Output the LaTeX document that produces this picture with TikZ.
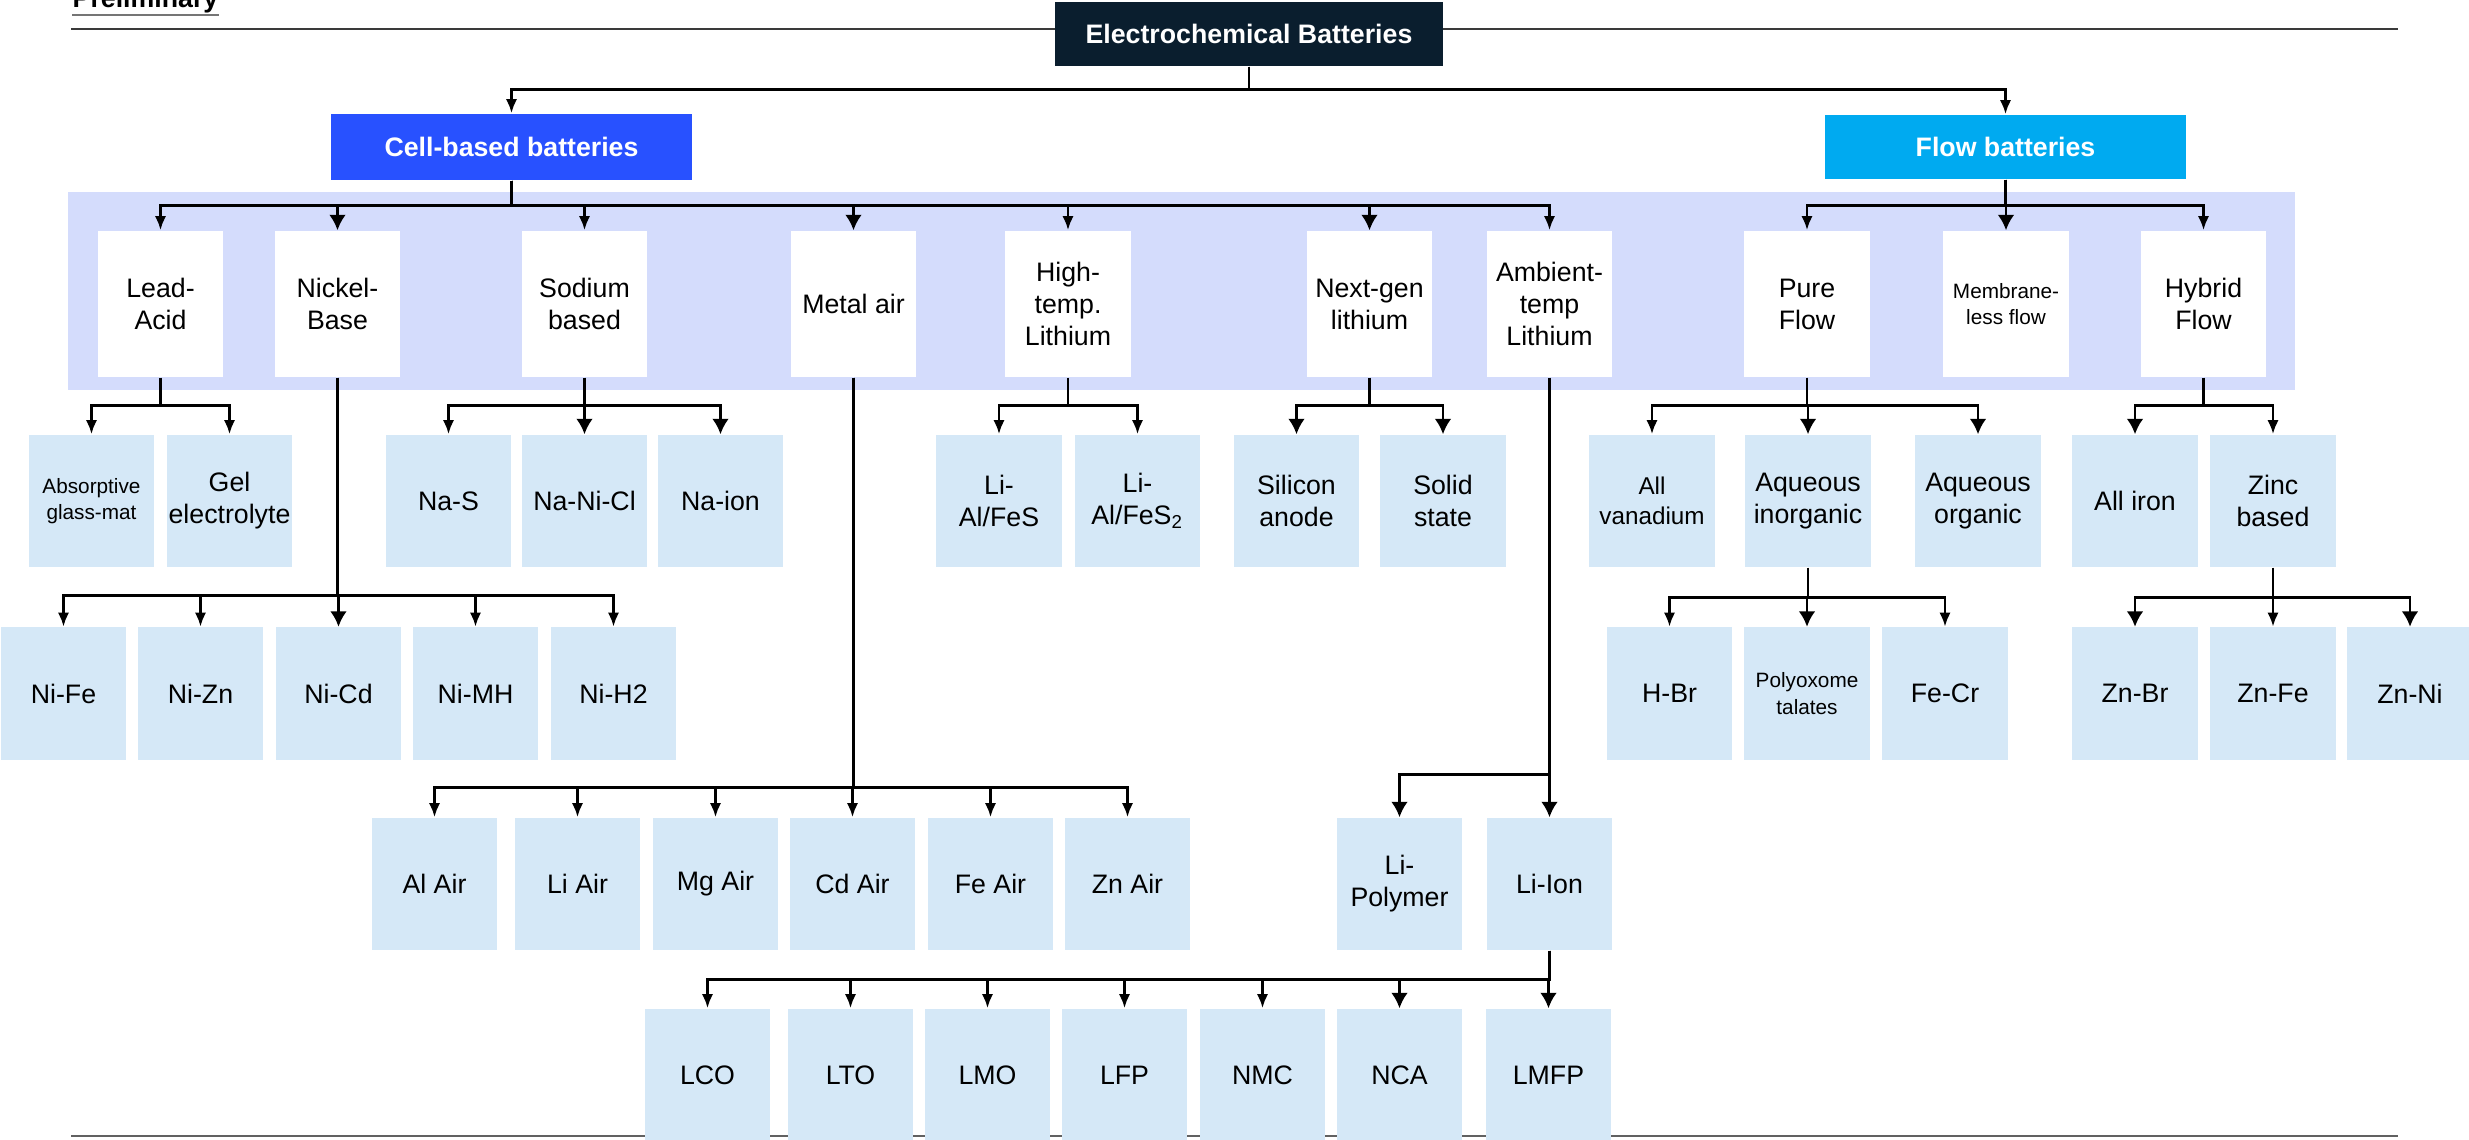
\documentclass[tikz,border=0pt]{standalone}
\usepackage{fontspec}
\setmainfont{Liberation Sans}
\usetikzlibrary{arrows.meta}

\definecolor{navy}{HTML}{0A1E2E}
\definecolor{cellblue}{HTML}{2851FF}
\definecolor{flowcyan}{HTML}{00AAF0}
\definecolor{panel}{HTML}{D4DCFC}
\definecolor{leafblue}{HTML}{D5E8F7}
\definecolor{rulegray}{HTML}{3A3A3A}

\tikzset{
  head/.style={inner sep=0pt, text=white, font=\fontsize{7.6}{9.1}\selectfont\bfseries},
  cat/.style={fill=white, minimum width=1.25cm, minimum height=1.46cm, inner sep=0pt, align=center},
  leaf/.style={fill=leafblue, minimum width=1.25cm, minimum height=1.32cm, inner sep=0pt, align=center},
  smalltext/.style={font=\fontsize{5.9}{7.6}\selectfont},
  midtext/.style={font=\fontsize{6.9}{8.4}\selectfont},
  link/.style={-{Latex[length=4pt,width=3.2pt]}, line width=0.8pt},
  biglink/.style={-{Latex[length=4.4pt,width=4.8pt]}, line width=0.8pt},
}

\begin{document}
\begin{tikzpicture}[x=0.01cm, y=-0.01cm, font=\fontsize{7.6}{9.1}\selectfont]
  \useasboundingbox (0,0) rectangle (2469,1139);

  % rules and panel
  \node[anchor=base west, inner sep=0pt, font=\fontsize{7.6}{9.1}\selectfont\bfseries] at (72,7) (prelim) {Preliminary};
  \draw[rulegray!70, line width=0.6pt] (72,15) -- (219,15);
  \draw[rulegray, line width=0.6pt] (71,29) -- (2398,29);
  \draw[rulegray!80, line width=0.6pt] (71,1136) -- (2398,1136);
  \fill[panel] (68,192) rectangle (2295,390);

  % headers
  \node[head, fill=navy, minimum width=3.88cm, minimum height=0.64cm] at (1249,34) (echem) {Electrochemical Batteries};
  \node[head, fill=cellblue, minimum width=3.61cm, minimum height=0.66cm] at (511.5,147) (cell) {Cell-based batteries};
  \node[head, fill=flowcyan, minimum width=3.61cm, minimum height=0.64cm] at (2005.5,147) (flow) {Flow batteries};

  % second level
  \node[cat] at (160.5,304) (lead) {Lead-\\Acid};
  \node[cat] at (337.5,304) (nickel) {Nickel-\\Base};
  \node[cat] at (584.5,304) (sodium) {Sodium\\based};
  \node[cat] at (853.5,304) (metal) {Metal air};
  \node[cat] at (1068,304) (hightemp) {High-\\temp.\\Lithium};
  \node[cat] at (1369.5,304) (nextgen) {Next-gen\\lithium};
  \node[cat] at (1549.5,304) (ambient) {Ambient-\\temp\\Lithium};
  \node[cat] at (1807,304) (pure) {Pure\\Flow};
  \node[cat, smalltext] at (2006,304) (membrane) {Membrane-\\less flow};
  \node[cat] at (2203.5,304) (hybrid) {Hybrid\\Flow};

  % third level
  \node[leaf, smalltext] at (91.5,501) (absorptive) {Absorptive\\glass-mat};
  \node[leaf] at (229.5,501) (gel) {Gel\\electrolyte};
  \node[leaf] at (448.5,501) (nas) {Na-S};
  \node[leaf] at (584.5,501) (nanicl) {Na-Ni-Cl};
  \node[leaf] at (720.5,501) (naion) {Na-ion};
  \node[leaf] at (999,501) (lifes) {Li-\\Al/FeS};
  \node[leaf] at (1137.5,501) (lifes2) {Li-\\Al/FeS\textsubscript{2}};
  \node[leaf] at (1296.5,501) (silicon) {Silicon\\anode};
  \node[leaf] at (1443,501) (solid) {Solid\\state};
  \node[leaf, midtext] at (1652,501) (vanadium) {All\\vanadium};
  \node[leaf] at (1808,501) (aqinorg) {Aqueous\\inorganic};
  \node[leaf] at (1978,501) (aqorg) {Aqueous\\organic};
  \node[leaf] at (2135,501) (alliron) {All iron};
  \node[leaf] at (2273,501) (zinc) {Zinc\\based};

  % fourth level
  \node[leaf] at (63.5,693.5) (nife) {Ni-Fe};
  \node[leaf] at (200.5,693.5) (nizn) {Ni-Zn};
  \node[leaf] at (338.5,693.5) (nicd) {Ni-Cd};
  \node[leaf] at (475.5,693.5) (nimh) {Ni-MH};
  \node[leaf] at (613.5,693.5) (nih2) {Ni-H2};
  \node[leaf] at (1669.5,693.5) (hbr) {H-Br};
  \node[leaf, smalltext] at (1807,693.5) (polyox) {Polyoxome\\talates};
  \node[leaf] at (1945,693.5) (fecr) {Fe-Cr};
  \node[leaf] at (2135,693.5) (znbr) {Zn-Br};
  \node[leaf] at (2273,693.5) (znfe) {Zn-Fe};
  \node[leaf] at (2410,693.5) (znni) {Zn-Ni};

  % metal air and ambient lithium
  \node[leaf] at (434.5,884) (alair) {Al Air};
  \node[leaf] at (577.5,884) (liair) {Li Air};
  \node[leaf] at (715.5,884) (mgair) {Mg Air};
  \node[leaf] at (852.5,884) (cdair) {Cd Air};
  \node[leaf] at (990.5,884) (feair) {Fe Air};
  \node[leaf] at (1127.5,884) (znair) {Zn Air};
  \node[leaf] at (1399.5,884) (lipoly) {Li-\\Polymer};
  \node[leaf] at (1549.5,884) (liion) {Li-Ion};

  % li-ion chemistries
  \node[leaf] at (707.5,1075) (lco) {LCO};
  \node[leaf] at (850.5,1075) (lto) {LTO};
  \node[leaf] at (987.5,1075) (lmo) {LMO};
  \node[leaf] at (1124.5,1075) (lfp) {LFP};
  \node[leaf] at (1262.5,1075) (nmc) {NMC};
  \node[leaf] at (1399.5,1075) (nca) {NCA};
  \node[leaf] at (1548.5,1075) (lmfp) {LMFP};

  % connectors
  \draw[link] (echem.south) -- ++(0,23) -| (cell.north);
  \draw[link] (echem.south) -- ++(0,23) -| (flow.north);

  \draw[link] (cell.south) -- ++(0,25) -| (lead.north);
  \draw[biglink] (cell.south) -- ++(0,25) -| (nickel.north);
  \draw[link] (cell.south) -- ++(0,25) -| (sodium.north);
  \draw[biglink] (cell.south) -- ++(0,25) -| (metal.north);
  \draw[link] (cell.south) -- ++(0,25) -| (hightemp.north);
  \draw[biglink] (cell.south) -- ++(0,25) -| (nextgen.north);
  \draw[link] (cell.south) -- ++(0,25) -| (ambient.north);

  \draw[link] (flow.south) -- ++(0,26) -| (pure.north);
  \draw[biglink] (flow.south) -- ++(0,26) -| (membrane.north);
  \draw[link] (flow.south) -- ++(0,26) -| (hybrid.north);

  \draw[link] (lead.south) -- ++(0,28) -| (absorptive.north);
  \draw[link] (lead.south) -- ++(0,28) -| (gel.north);
  \draw[link] (sodium.south) -- ++(0,28) -| (nas.north);
  \draw[biglink] (sodium.south) -- ++(0,28) -| (nanicl.north);
  \draw[biglink] (sodium.south) -- ++(0,28) -| (naion.north);
  \draw[link] (hightemp.south) -- ++(0,28) -| (lifes.north);
  \draw[link] (hightemp.south) -- ++(0,28) -| (lifes2.north);
  \draw[biglink] (nextgen.south) -- ++(0,28) -| (silicon.north);
  \draw[biglink] (nextgen.south) -- ++(0,28) -| (solid.north);
  \draw[link] (pure.south) -- ++(0,28) -| (vanadium.north);
  \draw[biglink] (pure.south) -- ++(0,28) -| (aqinorg.north);
  \draw[biglink] (pure.south) -- ++(0,28) -| (aqorg.north);
  \draw[biglink] (hybrid.south) -- ++(0,28) -| (alliron.north);
  \draw[link] (hybrid.south) -- ++(0,28) -| (zinc.north);

  \draw[link] (nickel.south) -- ++(0,218) -| (nife.north);
  \draw[link] (nickel.south) -- ++(0,218) -| (nizn.north);
  \draw[biglink] (nickel.south) -- ++(0,218) -| (nicd.north);
  \draw[link] (nickel.south) -- ++(0,218) -| (nimh.north);
  \draw[link] (nickel.south) -- ++(0,218) -| (nih2.north);

  \draw[link] (aqinorg.south) -- ++(0,30) -| (hbr.north);
  \draw[biglink] (aqinorg.south) -- ++(0,30) -| (polyox.north);
  \draw[link] (aqinorg.south) -- ++(0,30) -| (fecr.north);
  \draw[biglink] (zinc.south) -- ++(0,30) -| (znbr.north);
  \draw[link] (zinc.south) -- ++(0,30) -| (znfe.north);
  \draw[biglink] (zinc.south) -- ++(0,30) -| (znni.north);

  \draw[link] (metal.south) -- ++(0,410) -| (alair.north);
  \draw[link] (metal.south) -- ++(0,410) -| (liair.north);
  \draw[link] (metal.south) -- ++(0,410) -| (mgair.north);
  \draw[link] (metal.south) -- ++(0,410) -| (cdair.north);
  \draw[link] (metal.south) -- ++(0,410) -| (feair.north);
  \draw[link] (metal.south) -- ++(0,410) -| (znair.north);

  \draw[biglink] (ambient.south) -- ++(0,397) -| (lipoly.north);
  \draw[biglink] (ambient.south) -- ++(0,397) -| (liion.north);

  \draw[link] (liion.south) -- ++(0,29) -| (lco.north);
  \draw[link] (liion.south) -- ++(0,29) -| (lto.north);
  \draw[link] (liion.south) -- ++(0,29) -| (lmo.north);
  \draw[link] (liion.south) -- ++(0,29) -| (lfp.north);
  \draw[link] (liion.south) -- ++(0,29) -| (nmc.north);
  \draw[biglink] (liion.south) -- ++(0,29) -| (nca.north);
  \draw[biglink] (liion.south) -- ++(0,29) -| (lmfp.north);
\end{tikzpicture}
\end{document}
